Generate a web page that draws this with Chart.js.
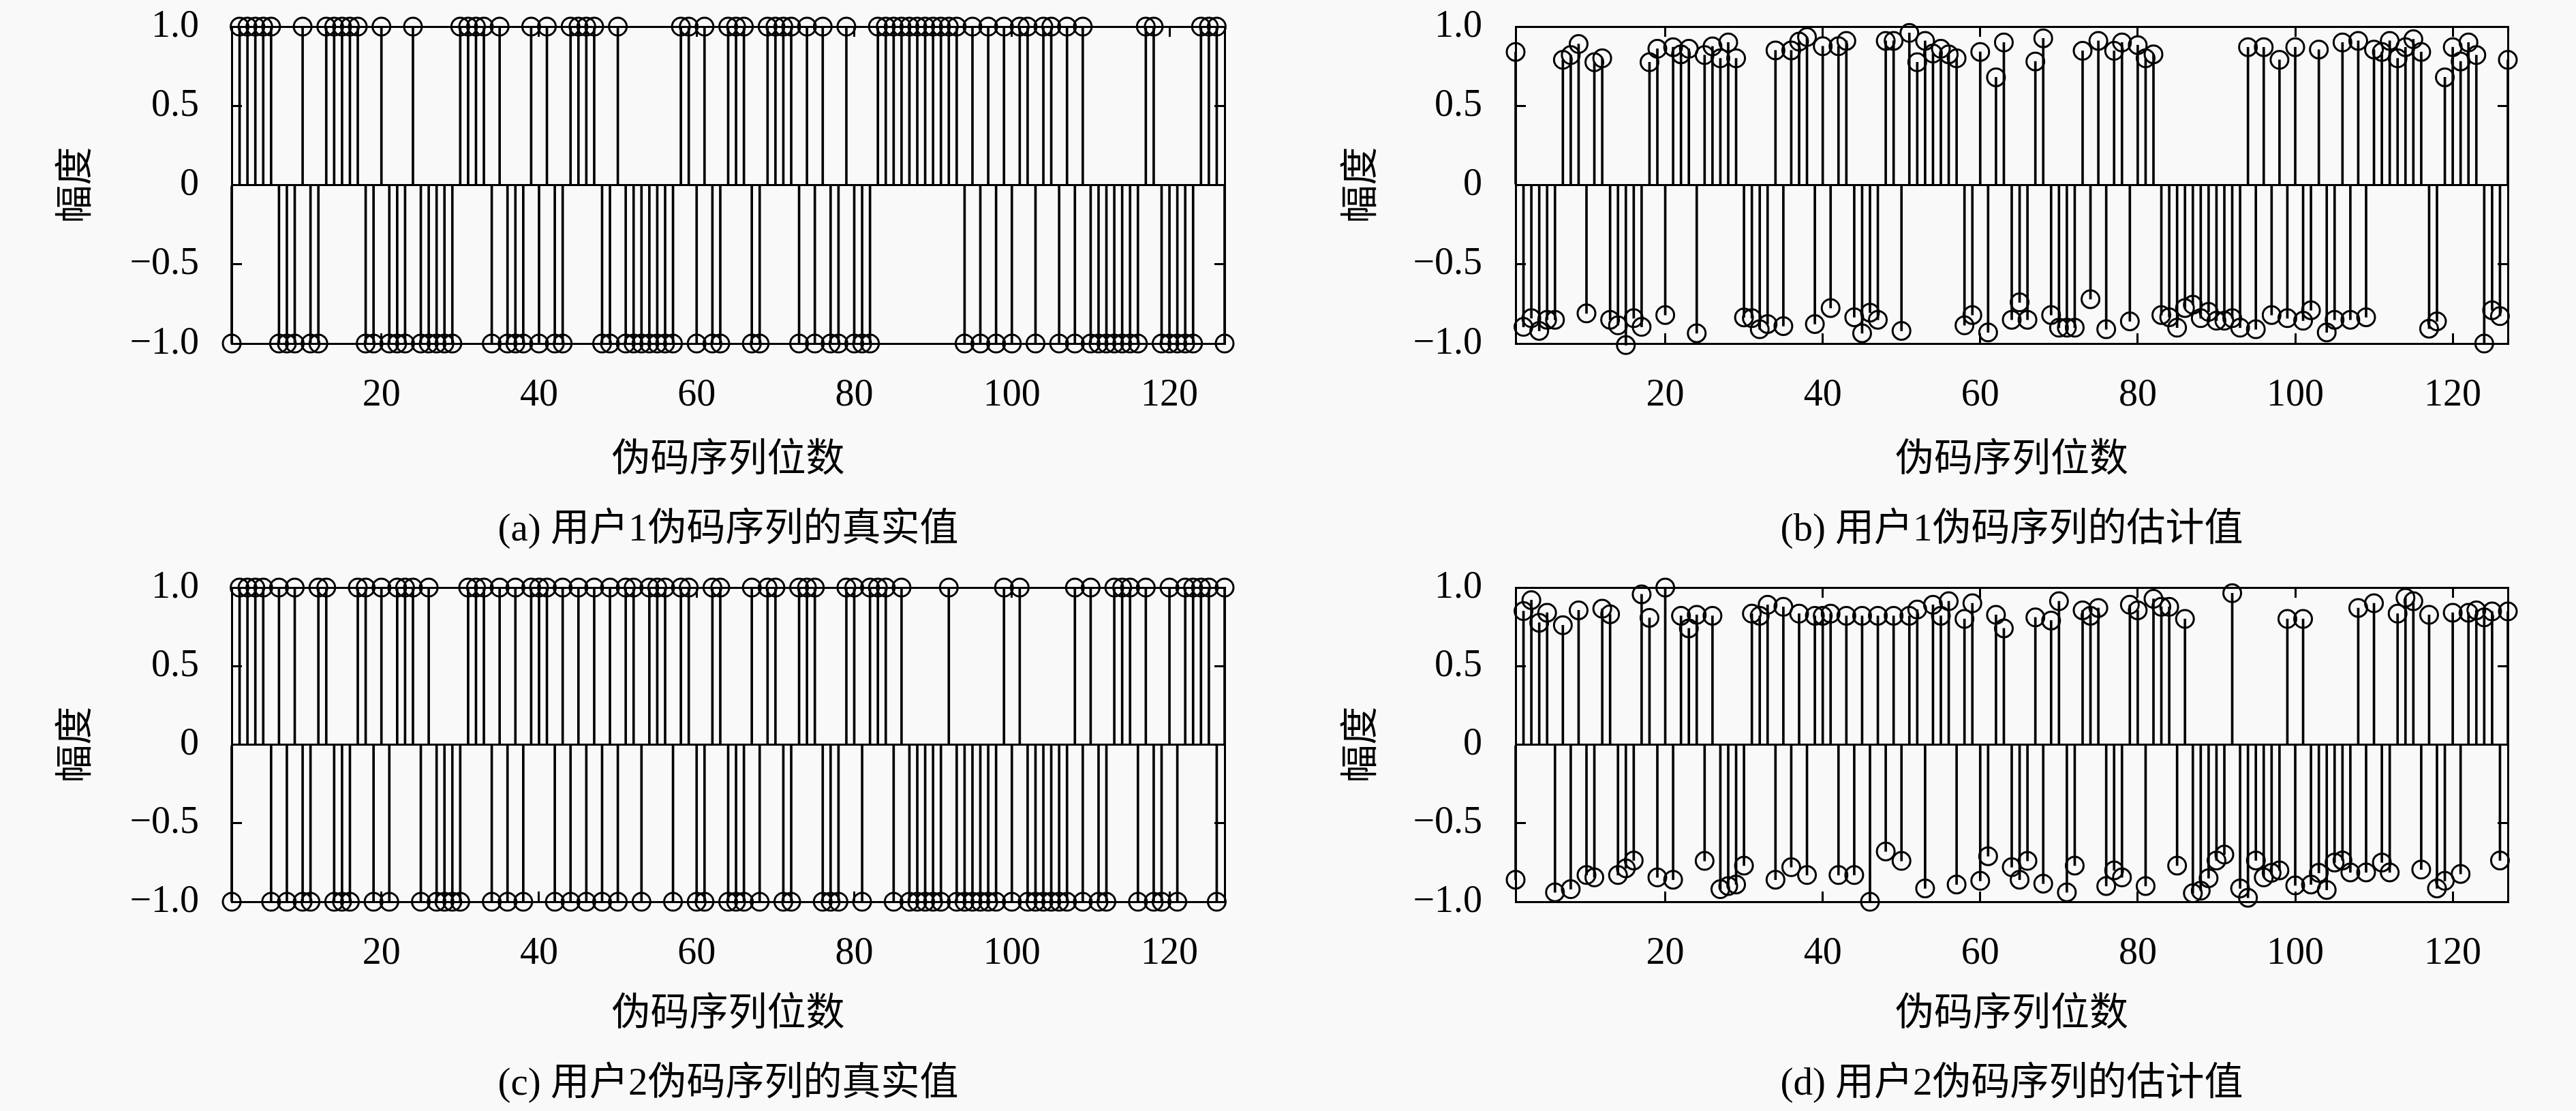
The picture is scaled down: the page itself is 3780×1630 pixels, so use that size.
<!DOCTYPE html>
<html>
<head>
<meta charset="utf-8">
<script src="https://cdn.jsdelivr.net/npm/chart.js@4/dist/chart.umd.min.js"></script>
<style>
  html, body { margin: 0; padding: 0; background: #f9f9f9; }
  #wrap { position: relative; width: 3780px; height: 1630px; overflow: hidden; }
  canvas { position: absolute; }
</style>
</head>
<body>
<div id="wrap">
  <canvas id="chartA" width="1890" height="815" style="left:0;top:0"></canvas>
  <canvas id="chartB" width="1890" height="815" style="left:1890px;top:0"></canvas>
  <canvas id="chartC" width="1890" height="815" style="left:0;top:815px"></canvas>
  <canvas id="chartD" width="1890" height="815" style="left:1890px;top:815px"></canvas>
</div>
<script>
// tick labels
var xTicks = [20, 40, 60, 80, 100, 120];
var yTicks = [-1, -0.5, 0, 0.5, 1];
var xLabel = "伪码序列位数";
var yLabel = "幅度";

// user 1, true chips (positions 1..127)
var user1True = [
  -1, 1, 1, 1, 1, 1, -1, -1, -1, 1,
  -1, -1, 1, 1, 1, 1, 1, -1, -1, 1,
  -1, -1, -1, 1, -1, -1, -1, -1, -1, 1,
  1, 1, 1, -1, 1, -1, -1, -1, 1, -1,
  1, -1, -1, 1, 1, 1, 1, -1, -1, 1,
  -1, -1, -1, -1, -1, -1, -1, 1, 1, -1,
  1, -1, -1, 1, 1, 1, -1, -1, 1, 1,
  1, 1, -1, 1, -1, 1, -1, -1, 1, -1,
  -1, -1, 1, 1, 1, 1, 1, 1, 1, 1,
  1, 1, 1, -1, 1, -1, 1, -1, 1, -1,
  1, 1, -1, 1, 1, -1, 1, -1, 1, -1,
  -1, -1, -1, -1, -1, -1, 1, 1, -1, -1,
  -1, -1, -1, 1, 1, 1, -1
];

// user 1, estimated chips
var user1Est = [
  0.84, -0.895, -0.84, -0.92, -0.85, -0.85, 0.79, 0.82, 0.89, -0.81,
  0.775, 0.80, -0.85, -0.885, -1.01, -0.84, -0.895, 0.775, 0.86, -0.82,
  0.87, 0.825, 0.86, -0.935, 0.82, 0.875, 0.80, 0.90, 0.80, -0.835,
  -0.84, -0.91, -0.877, 0.85, -0.89, 0.85, 0.905, 0.934, -0.877, 0.876,
  -0.776, 0.876, 0.91, -0.834, -0.935, -0.805, -0.85, 0.91, 0.91, -0.92,
  0.96, 0.775, 0.91, 0.83, 0.86, 0.825, 0.80, -0.885, -0.82, 0.84,
  -0.93, 0.68, 0.90, -0.85, -0.74, -0.85, 0.78, 0.926, -0.82, -0.90,
  -0.90, -0.90, 0.847, -0.72, 0.91, -0.91, 0.847, 0.90, -0.86, 0.883,
  0.80, 0.825, -0.82, -0.834, -0.90, -0.776, -0.755, -0.84, -0.80, -0.856,
  -0.856, -0.84, -0.90, 0.87, -0.91, 0.87, -0.82, 0.79, -0.84, 0.87,
  -0.856, -0.79, 0.855, -0.93, -0.85, 0.90, -0.85, 0.91, -0.834, 0.855,
  0.84, 0.91, 0.80, 0.87, 0.92, 0.84, -0.906, -0.86, 0.68, 0.87,
  0.78, 0.90, 0.82, -1.0, -0.79, -0.827, 0.79
];

// user 2, true chips
var user2True = [
  -1, 1, 1, 1, 1, -1, 1, -1, 1, -1,
  -1, 1, 1, -1, -1, -1, 1, 1, -1, 1,
  -1, 1, 1, 1, -1, 1, -1, -1, -1, -1,
  1, 1, 1, -1, 1, -1, 1, -1, 1, 1,
  1, -1, 1, -1, 1, -1, 1, -1, 1, -1,
  1, 1, -1, 1, 1, 1, -1, 1, 1, -1,
  -1, 1, 1, -1, -1, -1, 1, -1, 1, 1,
  -1, -1, 1, 1, 1, -1, -1, -1, 1, 1,
  -1, 1, 1, 1, -1, 1, -1, -1, -1, -1,
  -1, 1, -1, -1, -1, -1, -1, -1, 1, -1,
  1, -1, -1, -1, -1, -1, -1, 1, -1, 1,
  -1, -1, 1, 1, 1, -1, 1, -1, -1, 1,
  -1, 1, 1, 1, 1, -1, 1
];

// user 2, estimated chips
var user2Est = [
  -0.86, 0.85, 0.92, 0.776, 0.84, -0.94, 0.76, -0.92, 0.855, -0.83,
  -0.845, 0.865, 0.83, -0.83, -0.787, -0.737, 0.957, 0.807, -0.845, 1.0,
  -0.86, 0.82, 0.74, 0.826, -0.74, 0.82, -0.92, -0.90, -0.89, -0.77,
  0.834, 0.82, 0.89, -0.86, 0.877, -0.78, 0.834, -0.83, 0.82, 0.82,
  0.834, -0.83, 0.82, -0.83, 0.82, -1.0, 0.82, -0.68, 0.82, -0.74,
  0.82, 0.86, -0.915, 0.89, 0.82, 0.913, -0.89, 0.80, 0.90, -0.867,
  -0.71, 0.826, 0.74, -0.78, -0.86, -0.74, 0.81, -0.885, 0.79, 0.913,
  -0.94, -0.77, 0.855, 0.82, 0.87, -0.90, -0.80, -0.845, 0.89, 0.855,
  -0.90, 0.928, 0.877, 0.877, -0.77, 0.80, -0.946, -0.93, -0.85, -0.737,
  -0.70, 0.964, -0.915, -0.975, -0.737, -0.845, -0.816, -0.80, 0.80, -0.896,
  0.80, -0.89, -0.816, -0.925, -0.75, -0.737, -0.813, 0.87, -0.813, 0.90,
  -0.75, -0.813, 0.834, 0.935, 0.913, -0.795, 0.826, -0.915, -0.867, 0.84,
  -0.823, 0.84, 0.855, 0.81, 0.848, -0.737, 0.848
];

var serif = "'Liberation Serif', 'DejaVu Serif', serif";
var mixed = "'Liberation Serif', 'Noto Sans CJK SC', sans-serif";

function fmtY(v) {
  if (v === 0) return "0";
  var s = Math.abs(v).toFixed(1);
  return v < 0 ? "\u2212" + s : s;
}

function setTicks(list) {
  return function (scale) {
    scale.ticks = list.map(function (v) { return { value: v }; });
  };
}

// axes must not push the plot area around with their label padding
function noPad(s) {
  s.paddingTop = 0;
  s.paddingBottom = 0;
  s.paddingLeft = 0;
  s.paddingRight = 0;
}

function frameAxis(pos, lim, list) {
  var horiz = pos === "top";
  return {
    type: "linear",
    position: pos,
    min: lim[0],
    max: lim[1],
    offset: false,
    afterBuildTicks: setTicks(list),
    afterFit: function (s) {
      if (horiz) s.height = 0; else s.width = 0;
      noPad(s);
    },
    grid: { drawOnChartArea: false, offset: false, tickLength: -15, tickColor: "#000", tickWidth: 3 },
    border: { display: true, color: "#000", width: 3 },
    ticks: { display: false }
  };
}

function stemChart(id, values, caption, g) {
  var pts = values.map(function (v, i) { return { x: i + 1, y: v }; });
  return new Chart(document.getElementById(id), {
    type: "scatter",
    data: {
      datasets: [
        {
          type: "bar",
          data: pts,
          backgroundColor: "#000",
          borderWidth: 0,
          barThickness: 3,
          clip: false,
          order: 2
        },
        {
          type: "scatter",
          data: pts,
          pointStyle: "circle",
          pointRadius: 13,
          pointBorderWidth: 3,
          pointBorderColor: "#000",
          pointBackgroundColor: "rgba(0,0,0,0)",
          clip: false,
          order: 1
        }
      ]
    },
    options: {
      responsive: false,
      animation: false,
      devicePixelRatio: 1,
      layout: { padding: { left: 0, top: g.top, right: g.right, bottom: g.bottom } },
      plugins: {
        legend: { display: false },
        tooltip: { enabled: false },
        title: {
          display: true,
          text: caption,
          position: "bottom",
          fullSize: false,
          color: "#000",
          font: { family: mixed, size: 57, weight: "normal" },
          padding: { top: g.capPad, bottom: 0 }
        }
      },
      scales: {
        x: {
          type: "linear",
          position: "bottom",
          min: 1,
          max: 127,
          offset: false,
          afterBuildTicks: setTicks(xTicks),
          afterFit: function (s) { s.height = g.xh; noPad(s); },
          grid: { drawOnChartArea: false, offset: false, tickLength: -15, tickColor: "#000", tickWidth: 3 },
          border: { display: true, color: "#000", width: 3 },
          ticks: { color: "#000", font: { family: serif, size: 56 }, padding: 58, maxRotation: 0, autoSkip: false },
          title: { display: true, text: xLabel, color: "#000", font: { family: mixed, size: 57 }, padding: 0 }
        },
        x2: frameAxis("top", [1, 127], xTicks),
        y: {
          type: "linear",
          position: "left",
          min: -1,
          max: 1,
          afterBuildTicks: setTicks(yTicks),
          afterFit: function (s) { s.width = g.yw; noPad(s); },
          grid: {
            color: function (c) { return c.tick && c.tick.value === 0 ? "#000" : "rgba(0,0,0,0)"; },
            lineWidth: 3,
            tickLength: -15,
            tickColor: "#000",
            tickWidth: 3
          },
          border: { display: true, color: "#000", width: 3 },
          ticks: { color: "#000", font: { family: serif, size: 56 }, padding: g.yPad, callback: fmtY },
          title: { display: true, text: yLabel, color: "#000", font: { family: mixed, size: 56 }, padding: { top: g.titlePad, bottom: 0 } }
        },
        y2: frameAxis("right", [-1, 1], yTicks)
      }
    }
  });
}

stemChart("chartA", user1True, "(a) 用户1伪码序列的真实值",
  { top: 39, bottom: 2.6, right: 93, yw: 340, yPad: 63, titlePad: 80, xh: 206, capPad: 34 });
stemChart("chartB", user1Est, "(b) 用户1伪码序列的估计值",
  { top: 39, bottom: 2.6, right: 100, yw: 334, yPad: 64, titlePad: 76, xh: 206, capPad: 34 });
stemChart("chartC", user2True, "(c) 用户2伪码序列的真实值",
  { top: 47, bottom: 4.6, right: 93, yw: 340, yPad: 63, titlePad: 80, xh: 200, capPad: 34 });
stemChart("chartD", user2Est, "(d) 用户2伪码序列的估计值",
  { top: 47, bottom: 4.6, right: 100, yw: 334, yPad: 64, titlePad: 76, xh: 200, capPad: 34 });
</script>
</body>
</html>
